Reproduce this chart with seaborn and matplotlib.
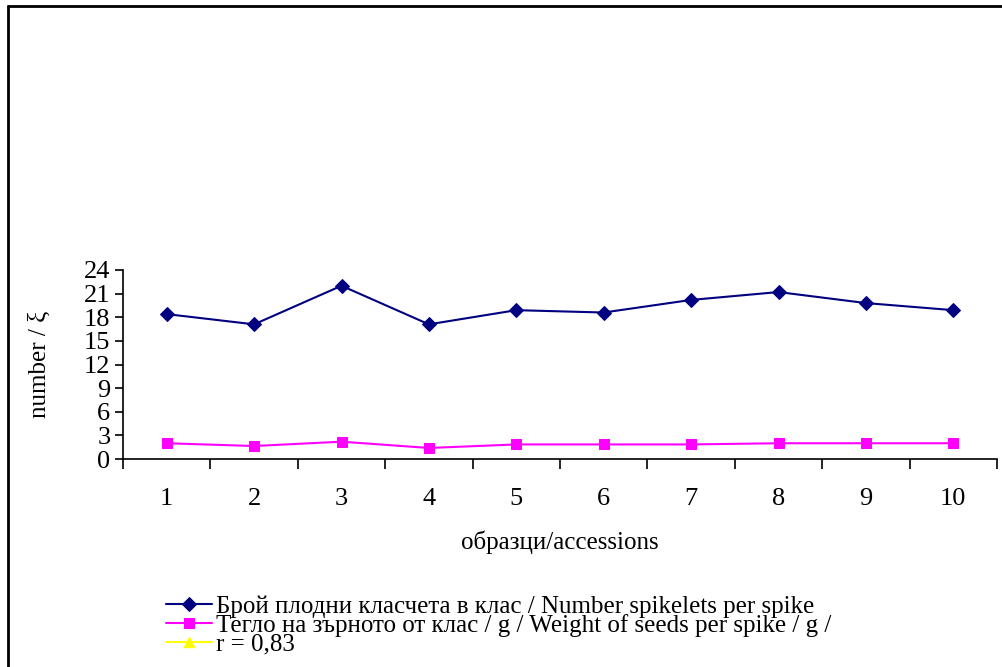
import numpy as np
import pandas as pd
import matplotlib
matplotlib.use("Agg")
import matplotlib.pyplot as plt
import seaborn as sns
from matplotlib.lines import Line2D

# ==========================================
# Data
# ==========================================
accessions = [1, 2, 3, 4, 5, 6, 7, 8, 9, 10]
spikelets = [18.4, 17.1, 22.0, 17.1, 18.9, 18.6, 20.2, 21.2, 19.8, 18.9]
seed_weight = [2.0, 1.65, 2.2, 1.4, 1.85, 1.85, 1.85, 2.0, 2.0, 2.0]
y_ticks = [0, 3, 6, 9, 12, 15, 18, 21, 24]

label_spk = "Брой плодни класчета в клас / Number spikelets per spike"
label_wgt = "Тегло на зърното от клас / g / Weight of seeds per spike / g /"
label_r = "r = 0,83"

df = pd.DataFrame({"accession": accessions, "spikelets": spikelets, "weight": seed_weight})

sns.set_style("white")
plt.rcParams['font.family'] = ['Liberation Serif', 'DejaVu Serif']
plt.rcParams.update({'text.color': 'black', 'axes.labelcolor': 'black',
                     'xtick.color': 'black', 'ytick.color': 'black'})
FS_TICK = 19
FS_LAB = 18
FS_LEG = 18

W, H = 1002, 667
fig = plt.figure(figsize=(W / 100, H / 100), dpi=100)
ax = fig.add_axes([123 / W, 1 - 459 / H, (997 - 123) / W, (459 - 270) / H])

sns.lineplot(data=df, x="accession", y="spikelets", ax=ax, color="#000080", lw=1.5,
             marker="D", markersize=7.5, markeredgecolor="#000080", label=label_spk)
sns.lineplot(data=df, x="accession", y="weight", ax=ax, color="#FF00FF", lw=1.5,
             marker="s", markersize=7.5, markeredgecolor="#FF00FF", label=label_wgt)

# the correlation series has no visible points, only a legend entry
r_handle = Line2D([], [], color="#FFFF00", lw=1.5, marker="^", markersize=7.5)

ax.set_xlim(0.5, 10.5)
ax.set_ylim(0, 24)
ax.set_yticks(y_ticks)
ax.set_yticklabels([str(v) for v in y_ticks], fontsize=FS_TICK)

# Excel style: ticks between categories, labels at centers
ax.set_xticks(np.arange(0.5, 11.0, 1.0))
ax.set_xticklabels([])
ax.set_xticks(accessions, minor=True)
ax.set_xticklabels([str(a) for a in accessions], minor=True, fontsize=FS_TICK)
ax.tick_params(axis="x", which="major", direction="out", length=7, width=1.2, color="black", bottom=True)
ax.tick_params(axis="x", which="minor", length=0, pad=21)
ax.tick_params(axis="y", direction="out", length=6, width=1.2, color="black", left=True, pad=3)

for side in ["top", "right"]:
    ax.spines[side].set_visible(False)
for side in ["left", "bottom"]:
    ax.spines[side].set_color("black")
    ax.spines[side].set_linewidth(1.2)

ax.set_xlabel("образци/accessions", fontsize=FS_LAB, labelpad=15)
ax.set_ylabel("number / ξ", fontsize=FS_LAB, labelpad=24)
ax.grid(False)

handles, labels = ax.get_legend_handles_labels()
ax.legend_.remove()
handles.append(r_handle)
labels.append(label_r)
fig.legend(handles, labels, loc="upper left", bbox_to_anchor=(166 / W, 1 - 595 / H),
           frameon=False, fontsize=FS_LEG, handlelength=1.85, handletextpad=0.15,
           labelspacing=-0.15, borderpad=0, borderaxespad=0)

# outer frame (only left and top edges are inside the picture)
fig.add_artist(Line2D([8 / W, 8 / W], [0, 1 - 6 / H], color="black", lw=2, transform=fig.transFigure))
fig.add_artist(Line2D([8 / W, 1], [1 - 6 / H, 1 - 6 / H], color="black", lw=2, transform=fig.transFigure))

fig.savefig("out.png", dpi=100)
